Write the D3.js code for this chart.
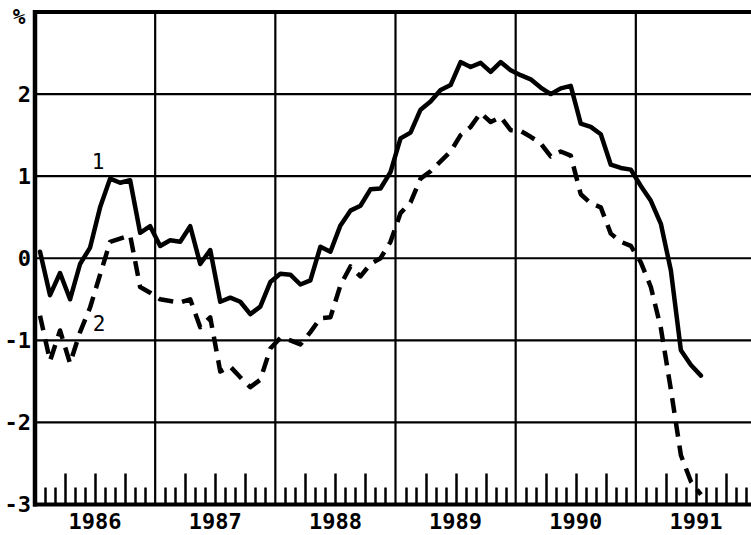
<!DOCTYPE html>
<html>
<head>
<meta charset="utf-8">
<script src="https://cdn.jsdelivr.net/npm/d3@7"></script>
<style>
  html, body { margin: 0; padding: 0; background: #fff; }
  svg { display: block; }
  text { font-family: "DejaVu Sans Mono", "Liberation Mono", monospace; fill: #000; }
</style>
</head>
<body>
<div id="chart"></div>
<script>
// ---- data (monthly, starting Jan 1986) ----
const startYear = 1986;
const yearLabels = ["1986", "1987", "1988", "1989", "1990", "1991"];
const yTickValues = [-3, -2, -1, 0, 1, 2];
const yTickLabels = ["-3", "-2", "-1", "0", "1", "2"];
const unitLabel = "%";
const seriesNames = ["1", "2"];

const series1 = [
  0.08, -0.45, -0.18, -0.50, -0.07, 0.13, 0.62, 0.97, 0.92, 0.95, 0.31, 0.39,
  0.15, 0.22, 0.20, 0.39, -0.07, 0.10, -0.53, -0.48, -0.53, -0.68, -0.59, -0.29,
  -0.19, -0.20, -0.32, -0.27, 0.14, 0.08, 0.40, 0.58, 0.64, 0.84, 0.85, 1.05,
  1.46, 1.53, 1.81, 1.91, 2.05, 2.11, 2.39, 2.33, 2.38, 2.27, 2.39, 2.29,
  2.23, 2.18, 2.08, 2.00, 2.07, 2.10, 1.64, 1.60, 1.51, 1.14, 1.10, 1.08,
  0.88, 0.70, 0.42, -0.15, -1.12, -1.30, -1.43
];
const series2 = [
  -0.70, -1.25, -0.88, -1.28, -0.90, -0.60, -0.20, 0.20, 0.24, 0.28, -0.35, -0.42,
  -0.50, -0.52, -0.54, -0.50, -0.84, -0.72, -1.38, -1.32, -1.45, -1.57, -1.48, -1.10,
  -0.97, -1.00, -1.05, -0.90, -0.73, -0.72, -0.33, -0.10, -0.22, -0.07, 0.00, 0.20,
  0.55, 0.68, 0.97, 1.06, 1.18, 1.30, 1.50, 1.60, 1.77, 1.66, 1.72, 1.56,
  1.55, 1.48, 1.40, 1.24, 1.30, 1.25, 0.78, 0.67, 0.62, 0.30, 0.20, 0.15,
  -0.05, -0.35, -0.85, -1.60, -2.40, -2.72, -2.88
];

// ---- layout ----
const W = 751, H = 535;
const svg = d3.select("#chart").append("svg").attr("width", W).attr("height", H);

const totalMonths = 72;
const x = d3.scaleLinear().domain([0, totalMonths]).range([35, 756]);
const y = d3.scaleLinear().domain([-3, 3]).range([504.5, 12]);

// gridlines horizontal
svg.append("g").selectAll("line").data(yTickValues.filter(v => v > -3))
  .join("line")
  .attr("x1", x(0)).attr("x2", W)
  .attr("y1", d => y(d)).attr("y2", d => y(d))
  .attr("stroke", "#000").attr("stroke-width", 2.2);

// gridlines vertical (year boundaries)
const yearBounds = d3.range(1, yearLabels.length).map(i => i * 12);
svg.append("g").selectAll("line").data(yearBounds)
  .join("line")
  .attr("x1", d => x(d)).attr("x2", d => x(d))
  .attr("y1", y(3)).attr("y2", y(-3))
  .attr("stroke", "#000").attr("stroke-width", 2.2);

// month ticks on bottom axis
const monthTicks = d3.range(1, totalMonths).filter(m => m % 12 !== 0);
svg.append("g").selectAll("line").data(monthTicks)
  .join("line")
  .attr("x1", d => Math.round(x(d)) + 0.5).attr("x2", d => Math.round(x(d)) + 0.5)
  .attr("y1", y(-3))
  .attr("y2", d => y(-3) - (d % 3 === 0 ? 31 : 17))
  .attr("stroke", "#000").attr("stroke-width", 2.5);

// frame: top, left, bottom
svg.append("line").attr("x1", x(0) - 2).attr("x2", W).attr("y1", y(3)).attr("y2", y(3))
  .attr("stroke", "#000").attr("stroke-width", 4);
svg.append("line").attr("x1", x(0) - 2).attr("x2", W).attr("y1", y(-3)).attr("y2", y(-3))
  .attr("stroke", "#000").attr("stroke-width", 4);
svg.append("line").attr("x1", x(0)).attr("x2", x(0)).attr("y1", y(3) - 2).attr("y2", y(-3) + 2)
  .attr("stroke", "#000").attr("stroke-width", 4.5);

// y labels
svg.append("g").selectAll("text").data(yTickValues)
  .join("text")
  .attr("x", 31).attr("y", d => y(d))
  .attr("dy", "0.36em")
  .attr("text-anchor", "end")
  .attr("font-size", 22).attr("font-weight", "bold")
  .text((d, i) => yTickLabels[i]);

svg.append("text").attr("x", 19).attr("y", 24).attr("text-anchor", "middle")
  .attr("font-size", 21).attr("font-weight", "bold").text(unitLabel);

// x labels
svg.append("g").selectAll("text").data(yearLabels)
  .join("text")
  .attr("x", (d, i) => x(i * 12 + 6)).attr("y", 529)
  .attr("text-anchor", "middle")
  .attr("font-size", 22).attr("font-weight", "bold")
  .text(d => d);

// lines
const line = d3.line().x((d, i) => x(i + 0.5)).y(d => y(d));
svg.append("path").datum(series2).attr("d", line)
  .attr("fill", "none").attr("stroke", "#000").attr("stroke-width", 4.5)
  .attr("stroke-dasharray", "15,9").attr("stroke-linejoin", "round");
svg.append("path").datum(series1).attr("d", line)
  .attr("fill", "none").attr("stroke", "#000").attr("stroke-width", 4.5)
  .attr("stroke-linejoin", "round").attr("stroke-linecap", "round");

// series labels
svg.append("text").attr("x", 98).attr("y", 169).attr("text-anchor", "middle")
  .attr("font-size", 21).text(seriesNames[0]);
svg.append("text").attr("x", 99).attr("y", 331).attr("text-anchor", "middle")
  .attr("font-size", 21).text(seriesNames[1]);
</script>
</body>
</html>
